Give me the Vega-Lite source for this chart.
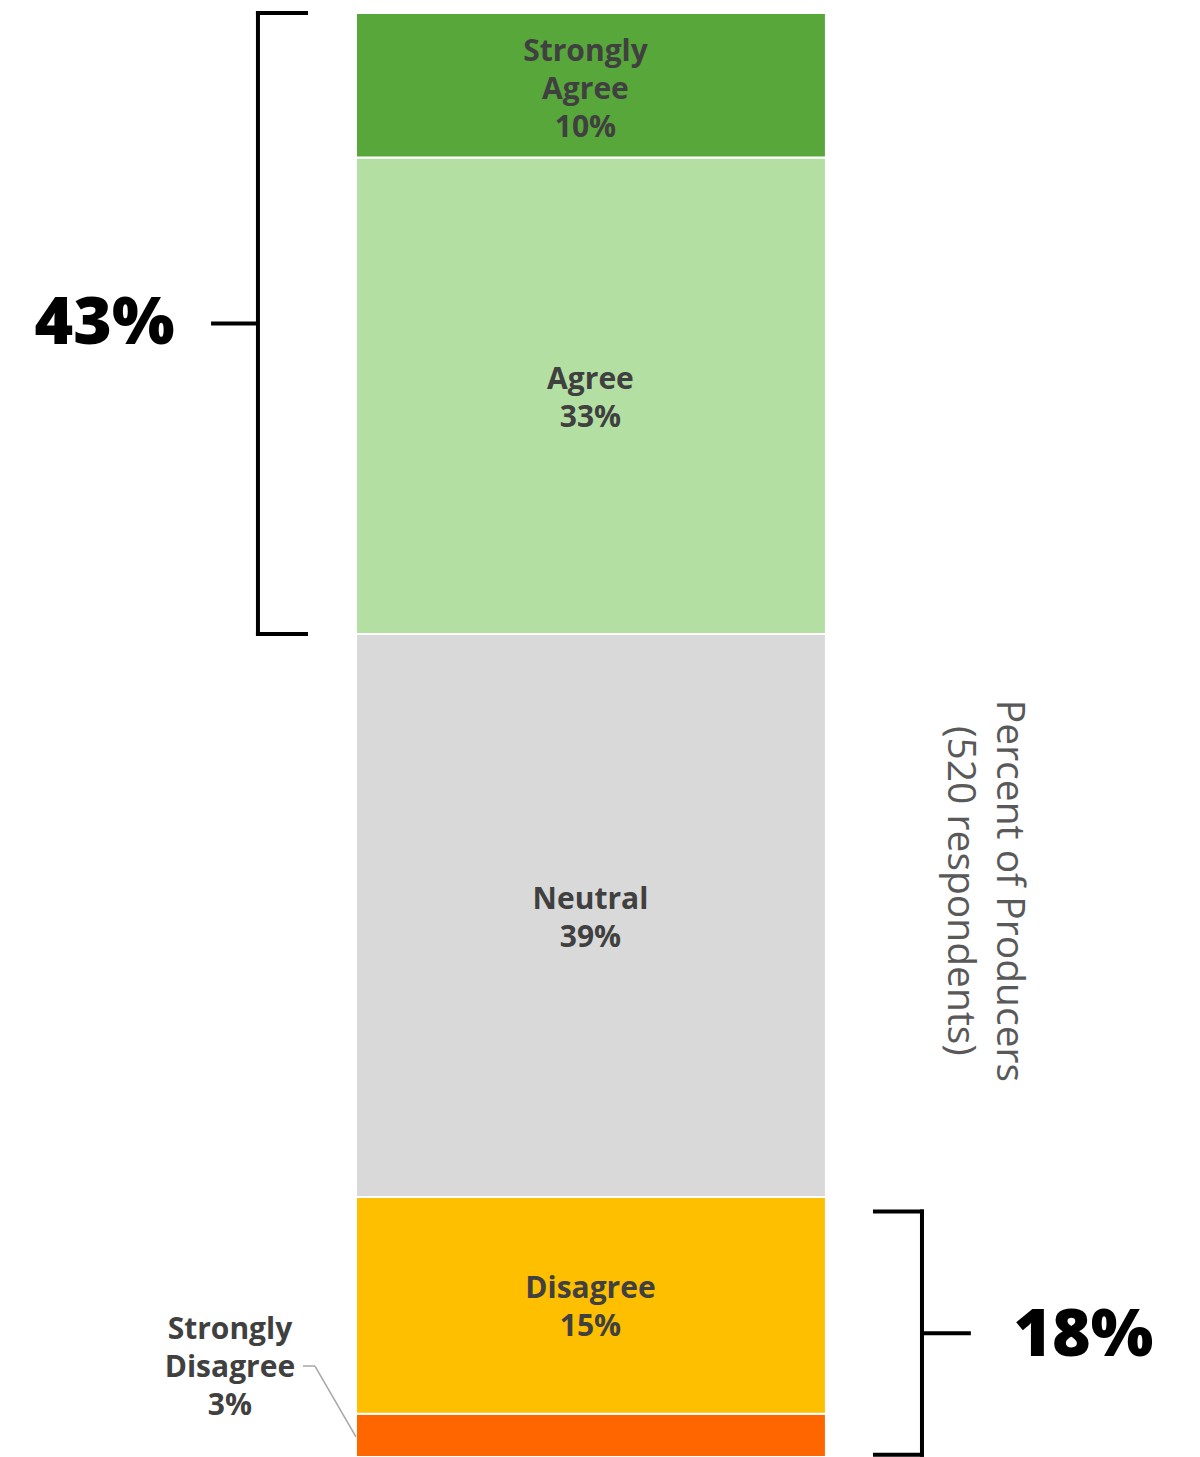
{
  "$schema": "https://vega.github.io/schema/vega-lite/v6.json",
  "width": 1200,
  "height": 1444,
  "autosize": "none",
  "padding": {"top": 13, "left": 0, "right": 0, "bottom": 0},
  "background": "white",
  "config": {"view": {"stroke": null}},
  "datasets": {
    "responses": [
      {"response": "Strongly Disagree", "label": "Strongly\nDisagree\n3%", "pct": 3, "rank": 1},
      {"response": "Disagree", "label": "Disagree\n15%", "pct": 15, "rank": 2},
      {"response": "Neutral", "label": "Neutral\n39%", "pct": 39, "rank": 3},
      {"response": "Agree", "label": "Agree\n33%", "pct": 33, "rank": 4},
      {"response": "Strongly Agree", "label": "Strongly\nAgree\n10%", "pct": 10, "rank": 5}
    ],
    "brackets": [
      {"side": "agree", "label": "43%", "lo": 57, "hi": 100},
      {"side": "disagree", "label": "18%", "lo": 0.15, "hi": 17}
    ]
  },
  "layer": [
    {
      "data": {"name": "responses"},
      "transform": [
        {"stack": "pct", "groupby": [], "sort": [{"field": "rank", "order": "ascending"}], "as": ["y0", "y1"]}
      ],
      "mark": {"type": "bar", "stroke": "white", "strokeWidth": 2},
      "encoding": {
        "x": {"datum": 0, "type": "quantitative", "scale": {"domain": [-0.759, 1.7996], "nice": false, "zero": false}, "axis": null},
        "x2": {"datum": 1.002},
        "y": {"field": "y0", "type": "quantitative", "scale": {"domain": [0, 100], "nice": false}, "axis": null},
        "y2": {"field": "y1"},
        "color": {
          "field": "response", "type": "nominal",
          "scale": {
            "domain": ["Strongly Agree", "Agree", "Neutral", "Disagree", "Strongly Disagree"],
            "range": ["#58A73B", "#B3DFA3", "#D9D9D9", "#FDBF00", "#FF6600"]
          },
          "legend": null
        }
      }
    },
    {
      "data": {"name": "responses"},
      "transform": [{"filter": "datum.rank === 3"}],
      "mark": {"type": "text", "angle": 90, "align": "center", "baseline": "alphabetic", "font": "Open Sans", "fontSize": 39, "fontWeight": "normal", "color": "#595959", "lineHeight": 49},
      "encoding": {
        "x": {"datum": 1.3667, "type": "quantitative", "scale": {"domain": [-0.759, 1.7996], "nice": false, "zero": false}, "axis": null},
        "y": {"datum": 39.2, "type": "quantitative", "scale": {"domain": [0, 100], "nice": false}, "axis": null},
        "text": {"value": ["Percent of Producers", "(520 respondents)"]}
      }
    },
    {
      "data": {"name": "responses"},
      "transform": [
        {"stack": "pct", "groupby": [], "sort": [{"field": "rank", "order": "ascending"}], "as": ["y0", "y1"]},
        {"calculate": "(datum.y0 + datum.y1) / 2", "as": "mid"},
        {"filter": "datum.response !== 'Strongly Disagree' && datum.response !== 'Strongly Agree'"}
      ],
      "mark": {"type": "text", "lineBreak": "\n", "align": "center", "baseline": "middle", "font": "Open Sans", "fontSize": 30, "fontWeight": "bold", "color": "#404040", "lineHeight": 38, "dy": -16},
      "encoding": {
        "x": {"datum": 0.5, "type": "quantitative", "scale": {"domain": [-0.759, 1.7996], "nice": false, "zero": false}, "axis": null},
        "y": {"field": "mid", "type": "quantitative", "scale": {"domain": [0, 100], "nice": false}, "axis": null},
        "text": {"field": "label"}
      }
    },
    {
      "data": {"name": "responses"},
      "transform": [
        {"stack": "pct", "groupby": [], "sort": [{"field": "rank", "order": "ascending"}], "as": ["y0", "y1"]},
        {"calculate": "(datum.y0 + datum.y1) / 2", "as": "mid"},
        {"filter": "datum.response === 'Strongly Agree'"}
      ],
      "mark": {"type": "text", "lineBreak": "\n", "align": "center", "baseline": "middle", "font": "Open Sans", "fontSize": 30, "fontWeight": "bold", "color": "#404040", "lineHeight": 38, "dy": -33, "dx": -5},
      "encoding": {
        "x": {"datum": 0.5, "type": "quantitative", "scale": {"domain": [-0.759, 1.7996], "nice": false, "zero": false}, "axis": null},
        "y": {"field": "mid", "type": "quantitative", "scale": {"domain": [0, 100], "nice": false}, "axis": null},
        "text": {"field": "label"}
      }
    },
    {
      "data": {"name": "responses"},
      "transform": [{"filter": "datum.response === 'Strongly Disagree'"}],
      "mark": {"type": "text", "lineBreak": "\n", "align": "center", "baseline": "middle", "font": "Open Sans", "fontSize": 30, "fontWeight": "bold", "color": "#404040", "lineHeight": 38, "dy": -36},
      "encoding": {
        "x": {"datum": -0.2687, "type": "quantitative", "scale": {"domain": [-0.759, 1.7996], "nice": false, "zero": false}, "axis": null},
        "y": {"datum": 6.3, "type": "quantitative", "scale": {"domain": [0, 100], "nice": false}, "axis": null},
        "text": {"field": "label"}
      }
    },
    {
      "data": {"name": "responses"},
      "transform": [{"filter": "datum.response === 'Strongly Disagree'"}],
      "mark": {"type": "rule", "color": "#A6A6A6", "strokeWidth": 1.5},
      "encoding": {
        "x": {"datum": -0.113, "type": "quantitative", "scale": {"domain": [-0.759, 1.7996], "nice": false, "zero": false}, "axis": null},
        "x2": {"datum": -0.0874},
        "y": {"datum": 6.3, "type": "quantitative", "scale": {"domain": [0, 100], "nice": false}, "axis": null}
      }
    },
    {
      "data": {"name": "responses"},
      "transform": [{"filter": "datum.response === 'Strongly Disagree'"}],
      "mark": {"type": "rule", "color": "#A6A6A6", "strokeWidth": 1.5},
      "encoding": {
        "x": {"datum": -0.0874, "type": "quantitative", "scale": {"domain": [-0.759, 1.7996], "nice": false, "zero": false}, "axis": null},
        "x2": {"datum": 0},
        "y": {"datum": 6.3, "type": "quantitative", "scale": {"domain": [0, 100], "nice": false}, "axis": null},
        "y2": {"datum": 1.4}
      }
    },
    {
      "data": {"name": "brackets"},
      "transform": [{"filter": "datum.side === 'agree'"}, {"calculate": "(datum.lo + datum.hi) / 2", "as": "mid"}],
      "layer": [
        {
          "mark": {"type": "rule", "color": "black", "strokeWidth": 4, "strokeCap": "square"},
          "encoding": {
            "x": {"datum": -0.209, "type": "quantitative", "scale": {"domain": [-0.759, 1.7996], "nice": false, "zero": false}, "axis": null},
            "y": {"field": "hi", "type": "quantitative", "scale": {"domain": [0, 100], "nice": false}, "axis": null},
            "y2": {"field": "lo"}
          }
        },
        {
          "mark": {"type": "rule", "color": "black", "strokeWidth": 4, "strokeCap": "square"},
          "encoding": {
            "x": {"datum": -0.209, "type": "quantitative", "axis": null},
            "x2": {"datum": -0.1066},
            "y": {"field": "hi", "type": "quantitative", "axis": null}
          }
        },
        {
          "mark": {"type": "rule", "color": "black", "strokeWidth": 4, "strokeCap": "square"},
          "encoding": {
            "x": {"datum": -0.209, "type": "quantitative", "axis": null},
            "x2": {"datum": -0.1066},
            "y": {"field": "lo", "type": "quantitative", "axis": null}
          }
        },
        {
          "mark": {"type": "rule", "color": "black", "strokeWidth": 4},
          "encoding": {
            "x": {"datum": -0.309, "type": "quantitative", "axis": null},
            "x2": {"datum": -0.209},
            "y": {"field": "mid", "type": "quantitative", "axis": null}
          }
        },
        {
          "mark": {"type": "text", "align": "center", "baseline": "middle", "font": "Open Sans", "fontSize": 66, "fontWeight": 800, "color": "black", "dy": 1},
          "encoding": {
            "x": {"datum": -0.536, "type": "quantitative", "axis": null},
            "y": {"field": "mid", "type": "quantitative", "axis": null},
            "text": {"field": "label"}
          }
        }
      ]
    },
    {
      "data": {"name": "brackets"},
      "transform": [{"filter": "datum.side === 'disagree'"}, {"calculate": "(datum.lo + datum.hi) / 2", "as": "mid"}],
      "layer": [
        {
          "mark": {"type": "rule", "color": "black", "strokeWidth": 4, "strokeCap": "square"},
          "encoding": {
            "x": {"datum": 1.2068, "type": "quantitative", "scale": {"domain": [-0.759, 1.7996], "nice": false, "zero": false}, "axis": null},
            "y": {"field": "hi", "type": "quantitative", "scale": {"domain": [0, 100], "nice": false}, "axis": null},
            "y2": {"field": "lo"}
          }
        },
        {
          "mark": {"type": "rule", "color": "black", "strokeWidth": 4, "strokeCap": "square"},
          "encoding": {
            "x": {"datum": 1.1066, "type": "quantitative", "axis": null},
            "x2": {"datum": 1.2068},
            "y": {"field": "hi", "type": "quantitative", "axis": null}
          }
        },
        {
          "mark": {"type": "rule", "color": "black", "strokeWidth": 4, "strokeCap": "square"},
          "encoding": {
            "x": {"datum": 1.1066, "type": "quantitative", "axis": null},
            "x2": {"datum": 1.2068},
            "y": {"field": "lo", "type": "quantitative", "axis": null}
          }
        },
        {
          "mark": {"type": "rule", "color": "black", "strokeWidth": 4},
          "encoding": {
            "x": {"datum": 1.2068, "type": "quantitative", "axis": null},
            "x2": {"datum": 1.311},
            "y": {"field": "mid", "type": "quantitative", "axis": null}
          }
        },
        {
          "mark": {"type": "text", "align": "center", "baseline": "middle", "font": "Open Sans", "fontSize": 66, "fontWeight": 800, "color": "black", "dy": 3},
          "encoding": {
            "x": {"datum": 1.551, "type": "quantitative", "axis": null},
            "y": {"field": "mid", "type": "quantitative", "axis": null},
            "text": {"field": "label"}
          }
        }
      ]
    }
  ]
}
